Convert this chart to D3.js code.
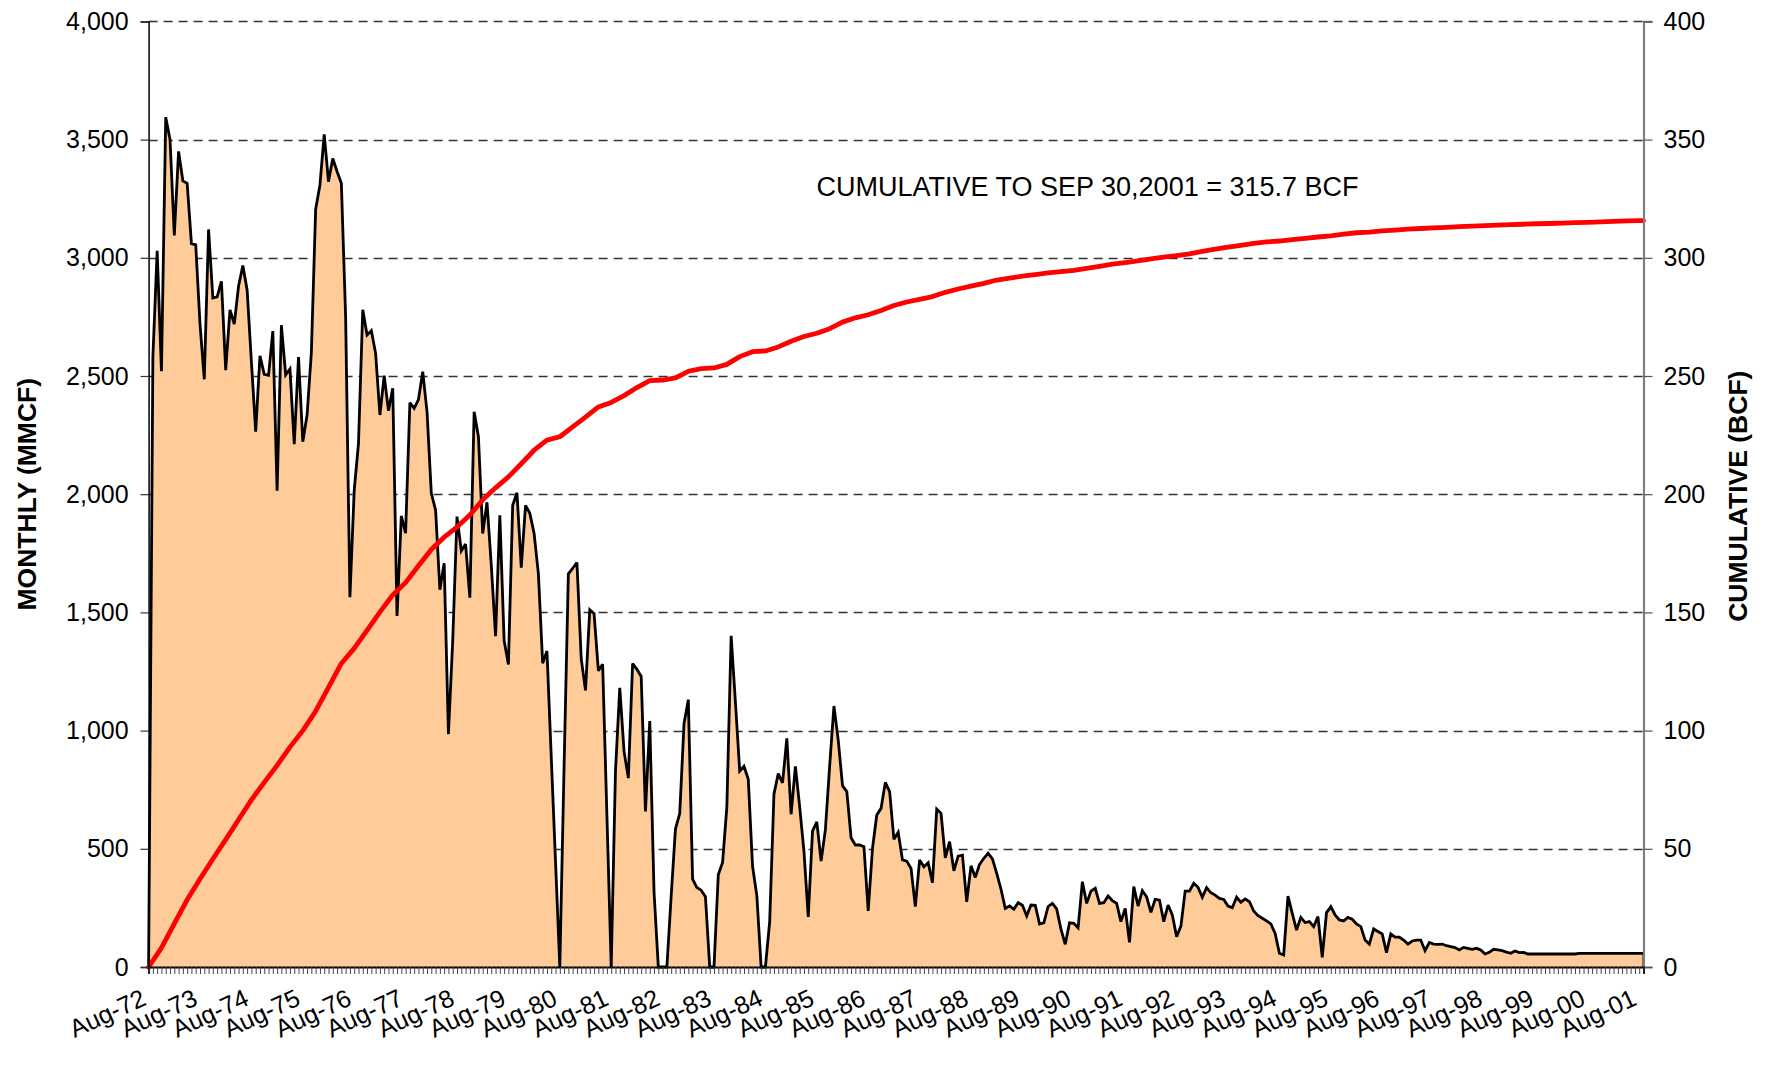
<!DOCTYPE html>
<html>
<head>
<meta charset="utf-8">
<script src="https://cdnjs.cloudflare.com/ajax/libs/d3/7.8.5/d3.min.js"></script>
<style>
  html, body { margin: 0; padding: 0; background: #fff; }
  svg { display: block; }
  text { font-family: "Liberation Sans", Arial, sans-serif; fill: #000; }
</style>
</head>
<body>
<svg id="chart" width="1765" height="1065"></svg>
<script>
// ---------------- DATA ----------------
// Monthly production (MMCF), Aug-72 .. Sep-01 (350 months)
const monthlyMMCF = [
  0,2580,3030,2520,3595,3500,3095,3450,3325,3315,3060,3055,
  2720,2486,3120,2830,2835,2900,2525,2780,2720,2880,2967,2864,
  2560,2265,2585,2507,2503,2690,2015,2715,2505,2530,2212,2580,
  2222,2335,2600,3205,3308,3522,3322,3420,3365,3315,2750,1564,
  2015,2215,2780,2673,2692,2596,2335,2501,2353,2448,1485,1908,
  1835,2387,2363,2400,2518,2349,2004,1933,1596,1708,985,1381,
  1905,1760,1789,1562,2349,2243,1834,1966,1700,1399,1911,1381,
  1280,1953,2006,1689,1953,1919,1834,1663,1285,1337,890,445,
  0,850,1663,1686,1711,1303,1170,1511,1495,1253,1281,640,
  0,830,1181,912,799,1284,1259,1229,658,1040,317,0,
  0,0,300,584,649,1029,1131,372,336,325,297,0,
  0,390,442,677,1401,1120,829,849,794,426,302,0,
  0,192,732,818,779,967,646,849,677,489,212,575,
  614,448,580,850,1104,960,767,742,547,516,516,509,
  237,502,643,671,781,742,540,570,453,448,417,255,
  453,424,441,357,668,650,462,530,407,469,473,276,
  428,379,434,460,481,457,396,329,248,258,244,272,
  261,216,262,261,182,187,256,269,246,160,96,187,
  185,166,361,269,321,333,269,272,300,281,269,192,
  248,104,340,258,323,297,231,286,283,192,262,220,
  128,173,321,321,354,337,295,336,314,304,290,286,
  258,251,295,274,288,276,237,217,206,195,182,142,
  58,51,300,227,156,210,188,192,171,213,41,230,
  255,220,199,195,210,202,182,171,114,97,161,150,
  140,61,140,126,126,114,97,110,114,114,69,104,
  97,96,97,90,86,82,72,83,79,75,79,72,
  55,62,75,72,69,63,58,68,61,62,55,55,
  55,55,55,55,55,55,55,55,55,55,58,58,
  58,58,58,58,58,58,58,58,58,58,58,58,
  58,58
];

// Cumulative (BCF), read every 3rd month from Aug-72, last value at Sep-01
const cumulativeBCF = [
  0,8.1,18.3,28.4,37.2,45.7,53.9,62.3,70.7,78.1,
  85.3,93.0,100.0,108.2,118.3,128.4,134.8,142.4,150.1,157.4,
  162.6,169.7,176.6,181.8,186.1,191.2,197.6,202.7,207.3,212.9,
  218.6,222.9,224.3,228.5,232.6,236.9,238.8,241.7,245.1,248.0,
  248.3,249.2,252.0,253.1,253.4,254.9,258.2,260.3,260.6,262.3,
  264.7,266.7,268.1,270.0,272.8,274.6,275.9,277.7,279.8,281.3,
  282.4,283.6,285.4,286.8,288.0,289.2,290.6,291.4,292.2,292.9,
  293.6,294.2,294.7,295.5,296.4,297.3,298.0,298.7,299.5,300.3,
  300.9,301.7,302.7,303.7,304.5,305.3,306.1,306.7,307.1,307.7,
  308.2,308.8,309.3,310.0,310.6,310.9,311.4,311.7,312.1,312.4,
  312.7,312.9,313.2,313.4,313.6,313.8,314.0,314.2,314.4,314.5,
  314.7,314.9,315.0,315.2,315.4,315.6,315.7,315.7
];
const cumulativeStepMonths = 3;

const xTickLabels = ["Aug-72","Aug-73","Aug-74","Aug-75","Aug-76","Aug-77","Aug-78","Aug-79",
  "Aug-80","Aug-81","Aug-82","Aug-83","Aug-84","Aug-85","Aug-86","Aug-87","Aug-88","Aug-89",
  "Aug-90","Aug-91","Aug-92","Aug-93","Aug-94","Aug-95","Aug-96","Aug-97","Aug-98","Aug-99",
  "Aug-00","Aug-01"];
const leftTicks = [0,500,1000,1500,2000,2500,3000,3500,4000];
const rightTicks = [0,50,100,150,200,250,300,350,400];
const leftTitle = "MONTHLY (MMCF)";
const rightTitle = "CUMULATIVE (BCF)";
const annotation = "CUMULATIVE TO SEP 30,2001 = 315.7 BCF";

// ---------------- LAYOUT ----------------
const plot = { left: 148.6, right: 1643.5, top: 21.4, bottom: 967 };
const tickFont = 25;

const fmtMonth = d3.timeFormat("%b-%y");
const monthLabels = d3.timeMonth.range(new Date(1972, 7, 1), new Date(2001, 9, 1)).map(fmtMonth);

const svg = d3.select("#chart");

const x = d3.scalePoint().domain(monthLabels).range([plot.left, plot.right]);
const yL = d3.scaleLinear().domain([0, 4000]).range([plot.bottom, plot.top]);
const yR = d3.scaleLinear().domain([0, 400]).range([plot.bottom, plot.top]);

// gridlines
svg.append("g")
  .selectAll("line")
  .data(leftTicks.filter(d => d > 0))
  .join("line")
  .attr("x1", plot.left).attr("x2", plot.right)
  .attr("y1", d => Math.round(yL(d)) + 0.5).attr("y2", d => Math.round(yL(d)) + 0.5)
  .attr("stroke", "#333").attr("stroke-width", 1.3)
  .attr("stroke-dasharray", "9,6");

// area
const area = d3.area()
  .x((d, i) => x(monthLabels[i]))
  .y0(yL(0))
  .y1(d => yL(d));
const line = d3.line()
  .x((d, i) => x(monthLabels[i]))
  .y(d => yL(d));

svg.append("path").datum(monthlyMMCF)
  .attr("d", area).attr("fill", "#FFCC99").attr("stroke", "none");
svg.append("path").datum(monthlyMMCF)
  .attr("d", line).attr("fill", "none").attr("stroke", "#000")
  .attr("stroke-width", 2.8).attr("stroke-linejoin", "miter").attr("stroke-miterlimit", 3);
// right edge of area
svg.append("line")
  .attr("x1", x(monthLabels[monthLabels.length - 1])).attr("x2", x(monthLabels[monthLabels.length - 1]))
  .attr("y1", yL(monthlyMMCF[monthlyMMCF.length - 1])).attr("y2", yL(0))
  .attr("stroke", "#000").attr("stroke-width", 2);

// cumulative line
const cumLine = d3.line()
  .x((d, i) => x(monthLabels[Math.min(i * cumulativeStepMonths, monthLabels.length - 1)]))
  .y(d => yR(d));
svg.append("path").datum(cumulativeBCF)
  .attr("d", cumLine).attr("fill", "none").attr("stroke", "#FF0000")
  .attr("stroke-width", 4.8).attr("stroke-linejoin", "round").attr("stroke-linecap", "round");

// left axis
const axL = d3.axisLeft(yL).tickValues(leftTicks).tickSize(8).tickPadding(12)
  .tickFormat(d3.format(","));
const gL = svg.append("g").attr("transform", `translate(${plot.left},0)`).call(axL);
gL.select(".domain").attr("stroke", "#000").attr("stroke-width", 1.5);
gL.selectAll(".tick line").attr("stroke", "#333").attr("stroke-width", 1.2);
gL.selectAll("text").attr("font-size", tickFont).attr("font-family", "Liberation Sans, Arial, sans-serif");

// right axis
const axR = d3.axisRight(yR).tickValues(rightTicks).tickSize(9).tickPadding(11)
  .tickFormat(d3.format("d"));
const gR = svg.append("g").attr("transform", `translate(${plot.right},0)`).call(axR);
gR.select(".domain").attr("stroke", "#808080").attr("stroke-width", 2.2);
gR.selectAll(".tick line").attr("stroke", "#555").attr("stroke-width", 1.2);
gR.selectAll("text").attr("font-size", tickFont).attr("font-family", "Liberation Sans, Arial, sans-serif");

// bottom axis
const axB = d3.axisBottom(x).tickValues(monthLabels).tickSize(7).tickPadding(0)
  .tickFormat(() => "");
const gB = svg.append("g").attr("transform", `translate(0,${plot.bottom})`).call(axB);
gB.select(".domain").attr("stroke", "#000").attr("stroke-width", 2);
gB.selectAll(".tick line").attr("stroke", "#444").attr("stroke-width", 1);

// x labels
svg.append("g").selectAll("text")
  .data(xTickLabels)
  .join("text")
  .attr("transform", d => `translate(${x(d) - 1},${plot.bottom + 37}) rotate(-25)`)
  .attr("text-anchor", "end")
  .attr("font-size", tickFont)
  .text(d => d);

// axis titles
svg.append("text")
  .attr("transform", `translate(36,${(plot.top + plot.bottom) / 2}) rotate(-90)`)
  .attr("text-anchor", "middle").attr("font-weight", "bold").attr("font-size", 26.5)
  .text(leftTitle);
svg.append("text")
  .attr("transform", `translate(1747,${(plot.top + plot.bottom) / 2 + 2}) rotate(-90)`)
  .attr("text-anchor", "middle").attr("font-weight", "bold").attr("font-size", 26.5)
  .text(rightTitle);

// annotation
svg.append("text")
  .attr("x", 1087.5).attr("y", 196)
  .attr("text-anchor", "middle").attr("font-size", 27)
  .text(annotation);
</script>
</body>
</html>
